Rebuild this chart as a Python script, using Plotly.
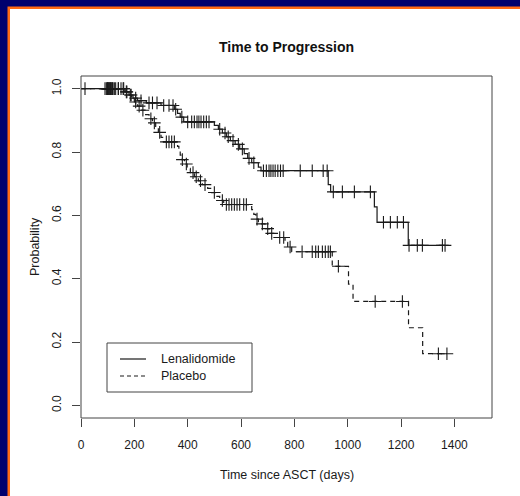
import plotly.graph_objects as go

# Kaplan-Meier estimates: event times (days) and survival probability after each event
len_event_t = [165, 180, 195, 212, 245, 300, 350, 362, 372, 385, 500, 515, 530, 545,
               560, 578, 595, 612, 625, 640, 665, 675, 927, 936, 1100, 1110, 1227]
len_event_s = [0.99, 0.98, 0.97, 0.962, 0.955, 0.947, 0.935, 0.922, 0.91, 0.895, 0.884,
               0.872, 0.86, 0.848, 0.836, 0.824, 0.81, 0.795, 0.78, 0.766, 0.752, 0.741,
               0.697, 0.674, 0.627, 0.578, 0.505]
len_censor_t = [15, 90, 95, 98, 100, 102, 105, 108, 110, 113, 116, 120, 130, 140, 150, 158,
                170, 188, 205, 225, 255, 268, 285, 310, 330, 345, 355, 378, 400, 415, 425,
                435, 442, 450, 460, 470, 480, 520, 540, 552, 570, 590, 605, 630, 648, 684,
                695, 705, 712, 720, 728, 738, 748, 758, 822, 867, 908, 923, 946, 980, 1025,
                1085, 1134, 1160, 1186, 1209, 1230, 1261, 1280, 1355, 1365]

pla_event_t = [165, 178, 190, 200, 212, 225, 240, 255, 268, 280, 290, 300, 310, 362, 367,
               372, 378, 388, 398, 410, 425, 440, 455, 475, 490, 505, 520, 535, 640, 648,
               656, 665, 690, 705, 725, 765, 775, 790, 942, 1003, 1020, 1228, 1281]
pla_event_s = [0.99, 0.98, 0.97, 0.958, 0.945, 0.932, 0.918, 0.905, 0.892, 0.878, 0.862,
               0.846, 0.832, 0.818, 0.804, 0.79, 0.776, 0.762, 0.748, 0.735, 0.722, 0.709,
               0.697, 0.685, 0.672, 0.66, 0.647, 0.634, 0.618, 0.603, 0.588, 0.573, 0.558,
               0.543, 0.53, 0.515, 0.5, 0.485, 0.439, 0.383, 0.328, 0.245, 0.163]
pla_censor_t = [100, 105, 112, 118, 125, 140, 160, 172, 185, 205, 218, 232, 262, 275, 295,
                320, 330, 340, 350, 380, 395, 420, 432, 448, 465, 500, 530, 545, 555, 565,
                575, 585, 595, 610, 620, 660, 680, 700, 715, 745, 760, 784, 829, 867, 880,
                890, 905, 916, 927, 935, 965, 1103, 1205, 1340, 1372]

x_ticks = [0, 200, 400, 600, 800, 1000, 1200, 1400]
y_ticks = [0.0, 0.2, 0.4, 0.6, 0.8, 1.0]
y_tick_text = ["0.0", "0.2", "0.4", "0.6", "0.8", "1.0"]

FONT = "Liberation Sans, Arial, Helvetica, sans-serif"
INK = "#1a1a1a"


def step_path(ev_t, ev_s, last_t):
    xs, ys = [0], [1.0]
    for t, s in zip(ev_t, ev_s):
        xs.append(t)
        ys.append(s)
    xs.append(last_t)
    ys.append(ys[-1])
    return xs, ys


def surv_at(t, ev_t, ev_s):
    s = 1.0
    for et, es in zip(ev_t, ev_s):
        if et <= t:
            s = es
    return s


fig = go.Figure()

for ev_t, ev_s, cen_t, dash, name in [
    (len_event_t, len_event_s, len_censor_t, "solid", "Lenalidomide"),
    (pla_event_t, pla_event_s, pla_censor_t, "5px,4px", "Placebo"),
]:
    xs, ys = step_path(ev_t, ev_s, max(cen_t[-1], ev_t[-1]))
    fig.add_trace(go.Scatter(x=xs, y=ys, mode="lines", line_shape="hv",
                             line=dict(color=INK, width=1.2, dash=dash),
                             name=name, showlegend=False, hoverinfo="skip"))
    fig.add_trace(go.Scatter(x=cen_t, y=[surv_at(t, ev_t, ev_s) for t in cen_t],
                             mode="markers",
                             marker=dict(symbol="cross-thin", size=9,
                                         line=dict(color=INK, width=1.1)),
                             showlegend=False, hoverinfo="skip"))

# plot area in pixels: left 81, right 492, top 76, bottom 418
L, R, T, B = 81, 492, 76, 418
W, H = 520, 496


def px(x):
    return (x - L) / (R - L)


def py(y):
    return (B - y) / (B - T)


shapes = [
    # navy surround, orange rule and white panel
    dict(type="rect", xref="paper", yref="paper", x0=px(7.5), x1=px(W + 5),
         y0=py(H + 5), y1=py(6.5), fillcolor="#ff6a14", line=dict(width=0), layer="below"),
    dict(type="rect", xref="paper", yref="paper", x0=px(10), x1=px(W + 5),
         y0=py(H + 5), y1=py(9), fillcolor="white", line=dict(width=0), layer="below"),
    # plot frame
    dict(type="rect", xref="paper", yref="paper", x0=0, x1=1, y0=0, y1=1,
         line=dict(color="#444", width=1)),
    # legend box and keys
    dict(type="rect", xref="paper", yref="paper", x0=px(107), x1=px(252),
         y0=py(392), y1=py(343), line=dict(color="#444", width=1), fillcolor="white"),
    dict(type="line", xref="paper", yref="paper", x0=px(120), x1=px(146),
         y0=py(359), y1=py(359), line=dict(color=INK, width=1.2)),
    dict(type="line", xref="paper", yref="paper", x0=px(120), x1=px(146),
         y0=py(376), y1=py(376), line=dict(color=INK, width=1.2, dash="4px,3px")),
]

annotations = [
    dict(text="<b>Time to Progression</b>", xref="paper", yref="paper",
         x=px(286), y=py(47), showarrow=False, font=dict(size=14, color="#111", family=FONT),
         xanchor="center", yanchor="middle"),
    dict(text="Time since ASCT (days)", xref="paper", yref="paper",
         x=px(287), y=py(475), showarrow=False, font=dict(size=12.5, color=INK, family=FONT),
         xanchor="center", yanchor="middle"),
    dict(text="Probability", xref="paper", yref="paper", textangle=-90,
         x=px(35), y=py(247), showarrow=False, font=dict(size=12.5, color=INK, family=FONT),
         xanchor="center", yanchor="middle"),
    dict(text="Lenalidomide", xref="paper", yref="paper", x=px(159), y=py(359),
         showarrow=False, font=dict(size=12.5, color=INK, family=FONT),
         xanchor="left", yanchor="middle"),
    dict(text="Placebo", xref="paper", yref="paper", x=px(159), y=py(376),
         showarrow=False, font=dict(size=12.5, color=INK, family=FONT),
         xanchor="left", yanchor="middle"),
]

fig.update_layout(
    width=W, height=H,
    margin=dict(l=L, r=W - R, t=T, b=H - B, pad=0),
    paper_bgcolor="#00006e", plot_bgcolor="white",
    font=dict(family=FONT, size=12, color=INK),
    shapes=shapes, annotations=annotations,
    showlegend=False,
    xaxis=dict(range=[0, 1541], tickvals=x_ticks, ticks="outside", ticklen=8,
               tickcolor="#444", showgrid=False, zeroline=False, showline=False,
               tickfont=dict(size=12, color=INK, family=FONT), ticklabelstandoff=8),
    yaxis=dict(range=[-0.04, 1.04], tickvals=y_ticks, ticktext=y_tick_text,
               ticks="outside", ticklen=8, tickcolor="#444", showgrid=False,
               zeroline=False, showline=False, tickangle=-90,
               tickfont=dict(size=12, color=INK, family=FONT), ticklabelstandoff=6),
)

fig.write_html("out.html")
